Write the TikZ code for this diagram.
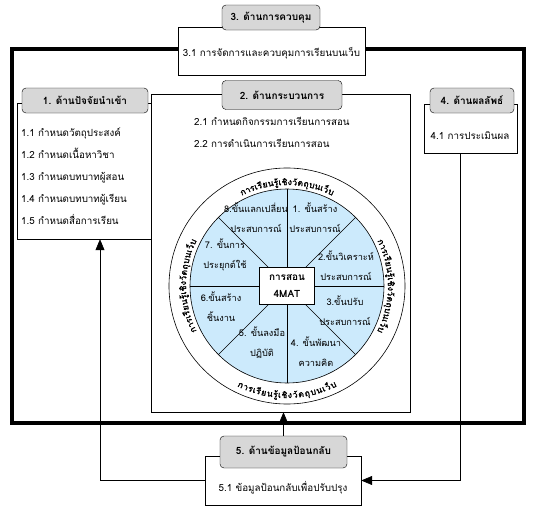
\documentclass[tikz,border=0pt]{standalone}
\usepackage{fontspec}
\setmainfont{Loma}[Script=Thai]
\newfontfamily\ringfont{Loma}[Script=Thai, FakeBold=2]
\usetikzlibrary{arrows.meta,calc,positioning}
\definecolor{headgray}{RGB}{215,215,215}
\definecolor{wheelblue}{RGB}{204,234,252}

% letter groups of the ring text, with their middle along the arc
\newcommand\ringlist{ก/0.5,า/1.4,ร/2.2,เ/2.875,รี/3.55,ย/4.45,น/5.45,รู้/6.35,เ/7.025,ชิ/7.8,ง/8.7,วั/9.55,ต/10.5,ถุ/11.5,บ/12.5,น/13.5,เ/14.275,ว็/15.0,บ/15.95}
% #1 middle angle, #2 direction, #3 radius, #4 turn of the letters
\newcommand\ringtext[4]{%
  \foreach \c/\p in \ringlist {
    \pgfmathsetmacro\ang{#1-#2*3.25*(\p-8.225)}
    \node[ring, rotate=\ang+#4] at ($(cen)+(-\ang:#3)$) {\c};
  }%
}

\begin{document}
\begin{tikzpicture}[
    x = 1pt, y = -1pt,
    head/.style={draw, fill=headgray, rounded corners=4pt, inner sep=0pt,
        font=\bfseries\fontsize{10}{12}\selectfont},
    box/.style={draw, fill=white, inner sep=0pt},
    item/.style={inner sep=0pt, anchor=base, font=\fontsize{9.8}{12}\selectfont},
    sect/.style={inner sep=0pt, align=center, font=\fontsize{9.2}{20}\selectfont},
    ring/.style={inner sep=0pt, anchor=base, font=\ringfont\fontsize{8.5}{10}\selectfont},
    arr/.style={semithick, -{Triangle[length=11pt,width=9pt]}}
]
    \useasboundingbox (0,0) rectangle (539,506);

    % outer frame
    \draw[line width=3.5pt] (12,49) rectangle (524,423);

    % boxes
    \node[box, minimum width=187pt, minimum height=48pt] (b3) at (271.5,51) {};
    \node[box, minimum width=135pt, minimum height=136pt] (b1) at (84.5,171) {};
    \node[box, minimum width=259pt, minimum height=318pt] (b2) at (280.5,253) {};
    \node[box, minimum width=93pt, minimum height=49pt] (b4) at (470.5,128.5) {};
    \node[box, minimum width=156pt, minimum height=49pt] (b5) at (283,480.5) {};

    \node[item] (t31) at (271.5,56.5) {3.1 การจัดการและควบคุมการเรียนบนเว็บ};
    \foreach \t [count=\i] in {1.1 กำหนดวัตถุประสงค์, 1.2 กำหนดเนื้อหาวิชา,
        1.3 กำหนดบทบาทผู้สอน, 1.4 กำหนดบทบาทผู้เรียน, 1.5 กำหนดสื่อการเรียน}
        \node[item, anchor=base west] (t1\i) at (21,114.5+22*\i) {\t};
    \node[item, anchor=base west] (t21) at (194,125.5) {2.1 กำหนดกิจกรรมการเรียนการสอน};
    \node[item, anchor=base west] (t22) at (194,147.5) {2.2 การดำเนินการเรียนการสอน};
    \node[item] (t41) at (470,139.5) {4.1 การประเมินผล};
    \node[item] (t51) at (283,491.5) {5.1 ข้อมูลป้อนกลับเพื่อปรับปรุง};

    % wheel
    \coordinate (cen) at (287,286);
    \draw[semithick] (cen) circle[radius=118];
    \draw[semithick, fill=wheelblue] (cen) circle[radius=97];
    \foreach \a in {0,45,...,315}
        \draw[semithick] (cen) -- ($(cen)+(\a:97)$);
    \node[draw, thick, fill=white, minimum width=55pt, minimum height=37pt,
        inner sep=0pt, align=center, font=\bfseries\fontsize{10}{17}\selectfont]
        (core) at (cen) {การสอน\\4MAT};

    \node[sect] (s8) at (256,218) {8.ขั้นแลกเปลี่ยน\\ประสบการณ์};
    \node[sect] (s1) at (315,218) {1. ขั้นสร้าง\\ประสบการณ์};
    \node[sect] (s2) at (346,266) {2.ขั้นวิเคราะห์\\ประสบการณ์};
    \node[sect] (s3) at (345,311) {3.ขั้นปรับ\\ประสบการณ์};
    \node[sect] (s4) at (316,352) {4. ขั้นพัฒนา\\ความคิด};
    \node[sect] (s5) at (262,343) {5. ขั้นลงมือ\\ปฏิบัติ};
    \node[sect] (s6) at (221,307) {6.ขั้นสร้าง\\ชิ้นงาน};
    \node[sect] (s7) at (225,255) {7. ขั้นการ\\ประยุกต์ใช้};

    \ringtext{90}{1}{101}{-90}
    \ringtext{180}{1}{101}{-90}
    \ringtext{360}{1}{101}{-90}
    \ringtext{270}{-1}{112}{90}

    % headers
    \node[head, minimum width=98pt, minimum height=25pt] (h3) at (271,17.5) {3. ด้านการควบคุม};
    \node[head, minimum width=126pt, minimum height=25pt] (h1) at (85,100.5) {1. ด้านปัจจัยนำเข้า};
    \node[head, minimum width=120pt, minimum height=29pt] (h2) at (282,95) {2. ด้านกระบวนการ};
    \node[head, minimum width=84pt, minimum height=25pt] (h4) at (472,100.5) {4. ด้านผลลัพธ์};
    \node[head, minimum width=127pt, minimum height=32pt] (h5) at (283.5,452) {5. ด้านข้อมูลป้อนกลับ};

    % connectors
    \draw[arr] (h5.north) -- (h5.north |- b2.south);
    \draw[arr] (b5.west) -| ([xshift=15.5pt]b1.south);
    \draw[arr] ([xshift=-10.5pt]b4.south) |- (b5.east);
\end{tikzpicture}
\end{document}
